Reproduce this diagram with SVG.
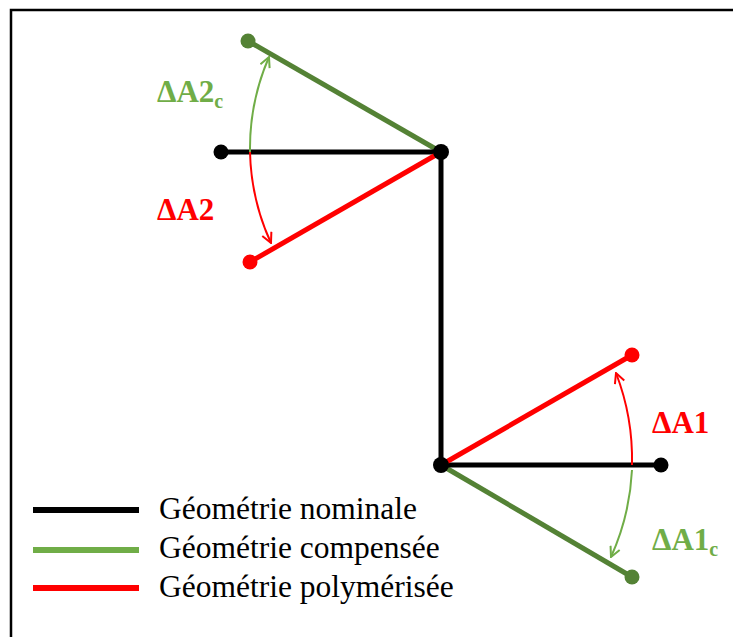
<svg xmlns="http://www.w3.org/2000/svg" width="733" height="637" viewBox="0 0 733 637">
  <defs>
    <style>
      .nom { stroke: #000000; stroke-width: 5; fill: none; stroke-linecap: butt; }
      .comp { stroke: #548235; stroke-width: 5; fill: none; }
      .poly { stroke: #FF0000; stroke-width: 5; fill: none; }
      .arcg { stroke: #70AD47; stroke-width: 2; fill: none; }
      .arcr { stroke: #FF0000; stroke-width: 2; fill: none; }
      .lbl { font-family: "Liberation Serif", "Times New Roman", serif; font-weight: bold; font-size: 31px; }
      .leg { font-family: "Liberation Serif", "Times New Roman", serif; font-size: 31.5px; fill: #000000; }
    </style>
    <marker id="ahg" viewBox="0 0 12 12" refX="11" refY="6" markerWidth="12" markerHeight="12" markerUnits="userSpaceOnUse" orient="auto">
      <path d="M1,1 L11,6 L1,11" fill="none" stroke="#70AD47" stroke-width="2"/>
    </marker>
    <marker id="ahr" viewBox="0 0 12 12" refX="11" refY="6" markerWidth="12" markerHeight="12" markerUnits="userSpaceOnUse" orient="auto">
      <path d="M1,1 L11,6 L1,11" fill="none" stroke="#FF0000" stroke-width="2"/>
    </marker>
  </defs>
  <rect x="0" y="0" width="733" height="637" fill="#FFFFFF"/>
  <rect id="frame" x="11" y="10" width="740" height="650" fill="none" stroke="#000000" stroke-width="2.5"/>

  <g id="connectors">
    <line class="comp" x1="441" y1="152" x2="248" y2="41"/>
    <line class="comp" x1="441" y1="465" x2="632" y2="577"/>
    <line class="nom" x1="221" y1="152" x2="441" y2="152"/>
    <line class="nom" x1="441" y1="152" x2="441" y2="465"/>
    <line class="nom" x1="441" y1="465" x2="661" y2="465"/>
    <line class="poly" x1="441" y1="152" x2="250" y2="262"/>
    <line class="poly" x1="441" y1="465" x2="632" y2="355"/>
    <path class="arcg" d="M250,152 A230,230 0 0 1 269,57" marker-end="url(#ahg)"/>
    <path class="arcr" d="M250,152 A230,230 0 0 0 271,243" marker-end="url(#ahr)"/>
    <path class="arcr" d="M632,465 A240,240 0 0 0 616,373" marker-end="url(#ahr)"/>
    <path class="arcg" d="M632,470 A240,240 0 0 1 611,557" marker-end="url(#ahg)"/>
  </g>

  <g id="node-top-joint"><circle cx="441" cy="152" r="8" fill="#000000"/></g>
  <g id="node-bottom-joint"><circle cx="441" cy="465" r="8" fill="#000000"/></g>
  <g id="node-left-nominal"><circle cx="221" cy="152" r="7.5" fill="#000000"/></g>
  <g id="node-right-nominal"><circle cx="661" cy="465" r="7.5" fill="#000000"/></g>
  <g id="node-top-compensated"><circle cx="248" cy="41" r="7.5" fill="#548235"/></g>
  <g id="node-bottom-compensated"><circle cx="632" cy="577" r="7.5" fill="#548235"/></g>
  <g id="node-top-polymerised"><circle cx="250" cy="262" r="7.5" fill="#FF0000"/></g>
  <g id="node-bottom-polymerised"><circle cx="632" cy="355" r="7.5" fill="#FF0000"/></g>

  <g id="labels">
    <text class="lbl" x="157" y="102" fill="#70AD47">ΔA2<tspan font-size="20" dy="6">c</tspan></text>
    <text class="lbl" x="157" y="220" fill="#FF0000">ΔA2</text>
    <text class="lbl" x="652" y="433" fill="#FF0000">ΔA1</text>
    <text class="lbl" x="652" y="550" fill="#70AD47">ΔA1<tspan font-size="20" dy="6">c</tspan></text>
  </g>

  <g id="legend">
    <line x1="33" y1="510" x2="139" y2="510" stroke="#000000" stroke-width="6"/>
    <line x1="33" y1="550" x2="139" y2="550" stroke="#70AD47" stroke-width="6"/>
    <line x1="33" y1="588" x2="139" y2="588" stroke="#FF0000" stroke-width="6"/>
    <text class="leg" x="159" y="519">Géométrie nominale</text>
    <text class="leg" x="159" y="558">Géométrie compensée</text>
    <text class="leg" x="159" y="597">Géométrie polymérisée</text>
  </g>
</svg>
